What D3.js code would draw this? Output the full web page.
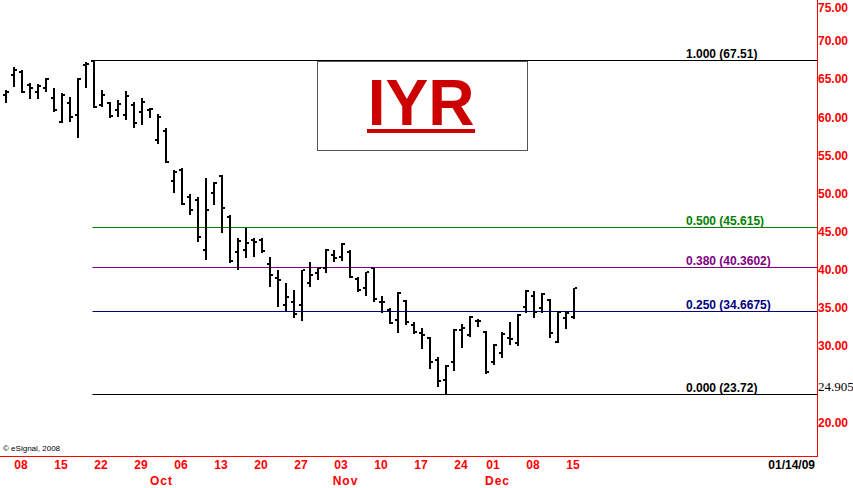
<!DOCTYPE html>
<html>
<head>
<meta charset="utf-8">
<script src="https://cdn.jsdelivr.net/npm/d3@7"></script>
<style>
  body { margin: 0; background: #fff; }
  svg { display: block; }
</style>
</head>
<body>
<div id="chart"></div>
<script>
// trading days shown on the chart
var dates = [
  "2008-09-04","2008-09-05","2008-09-08","2008-09-09","2008-09-10","2008-09-11","2008-09-12",
  "2008-09-15","2008-09-16","2008-09-17","2008-09-18","2008-09-19","2008-09-22","2008-09-23",
  "2008-09-24","2008-09-25","2008-09-26","2008-09-29","2008-09-30","2008-10-01","2008-10-02",
  "2008-10-03","2008-10-06","2008-10-07","2008-10-08","2008-10-09","2008-10-10","2008-10-13",
  "2008-10-14","2008-10-15","2008-10-16","2008-10-17","2008-10-20","2008-10-21","2008-10-22",
  "2008-10-23","2008-10-24","2008-10-27","2008-10-28","2008-10-29","2008-10-30","2008-10-31",
  "2008-11-03","2008-11-04","2008-11-05","2008-11-06","2008-11-07","2008-11-10","2008-11-11",
  "2008-11-12","2008-11-13","2008-11-14","2008-11-17","2008-11-18","2008-11-19","2008-11-20",
  "2008-11-21","2008-11-24","2008-11-25","2008-11-26","2008-11-28","2008-12-01","2008-12-02",
  "2008-12-03","2008-12-04","2008-12-05","2008-12-08","2008-12-09","2008-12-10","2008-12-11",
  "2008-12-12","2008-12-15"
];

var opens = [
  62.9, 65.5, 65.9, 64.2, 63.3, 63.8, 62.5, 59.4, 61.9, 60.3, 66.8, 67.4, 61.6, 61.9,
  61.0, 60.3, 61.6, 60.7, 61.0, 57.0, 58.2, 51.7, 53.1, 49.6, 49.2, 42.6, 50.1, 52.3,
  46.9, 42.3, 42.6, 43.9, 43.9, 40.8, 38.9, 35.4, 35.8, 35.4, 38.3, 39.6, 40.2, 41.9,
  41.7, 42.3, 38.8, 37.6, 40.2, 35.8, 34.7, 33.4, 35.9, 32.8, 31.7, 31.1, 28.2, 25.6,
  27.9, 32.1, 31.4, 33.3, 31.9, 27.9, 29.1, 31.1, 30.4, 35.1, 36.6, 35.0, 36.1, 30.5,
  33.7, 33.8
];
var highs = [
  63.6, 66.6, 66.2, 64.5, 64.4, 65.2, 63.8, 63.2, 62.7, 65.2, 67.3, 67.51, 63.6, 62.0,
  62.3, 63.4, 62.0, 62.5, 61.2, 60.4, 58.6, 53.1, 53.4, 49.9, 49.5, 52.0, 51.5, 52.4,
  47.2, 44.2, 45.5, 44.2, 44.2, 41.7, 40.0, 38.3, 37.4, 40.0, 41.0, 40.2, 42.7, 42.6,
  43.5, 42.6, 39.1, 39.7, 40.2, 36.6, 35.0, 37.1, 36.0, 33.2, 32.4, 31.2, 28.6, 27.5,
  32.3, 32.9, 33.9, 33.6, 32.0, 30.3, 31.9, 33.2, 34.2, 37.3, 37.2, 37.0, 36.2, 34.6,
  34.6, 37.6
];
var lows = [
  61.9, 64.0, 63.2, 62.4, 62.4, 63.3, 60.7, 59.3, 59.4, 57.3, 63.8, 61.2, 61.4, 59.9,
  60.0, 59.6, 58.6, 59.0, 59.9, 56.5, 54.0, 50.1, 48.5, 47.2, 43.7, 41.3, 48.5, 44.8,
  40.9, 40.0, 41.6, 41.7, 42.2, 37.8, 35.1, 34.6, 33.7, 33.3, 37.8, 38.7, 39.6, 41.0,
  41.2, 38.9, 37.1, 36.6, 35.8, 34.3, 32.9, 31.7, 32.8, 31.6, 29.6, 27.0, 24.6, 23.72,
  26.8, 29.8, 31.2, 32.5, 26.3, 27.5, 28.5, 30.2, 30.0, 34.3, 33.7, 34.3, 31.1, 30.4,
  32.2, 33.6
];
var closes = [
  63.3, 66.2, 63.3, 63.8, 64.1, 65.0, 61.0, 62.9, 60.0, 65.0, 67.0, 61.4, 62.9, 60.2,
  61.7, 62.8, 59.3, 62.0, 61.1, 60.0, 54.1, 52.8, 48.6, 47.9, 44.3, 47.8, 51.4, 48.1,
  41.1, 43.8, 43.5, 43.7, 42.5, 39.3, 38.7, 36.4, 34.2, 40.0, 39.3, 40.2, 42.6, 41.6,
  43.4, 39.1, 37.4, 39.7, 36.2, 35.8, 33.0, 37.0, 33.2, 31.9, 31.5, 27.9, 25.4, 27.4,
  32.1, 32.4, 33.8, 33.3, 26.6, 30.2, 31.6, 31.0, 34.1, 37.2, 34.5, 36.8, 31.7, 34.5,
  34.3, 37.6
];

// fibonacci retracement levels
var fibRatios = ["1.000", "0.500", "0.380", "0.250", "0.000"];
var fibPrices = [67.51, 45.615, 40.3602, 34.6675, 23.72];
var fibStartDate = "2008-09-19";

// axis labels
var priceTicks = [20, 30, 35, 40, 45, 50, 55, 60, 65, 70, 75];
var weekTicks = ["2008-09-08","2008-09-15","2008-09-22","2008-09-29","2008-10-06","2008-10-13",
  "2008-10-20","2008-10-27","2008-11-03","2008-11-10","2008-11-17","2008-11-24","2008-12-01",
  "2008-12-08","2008-12-15"];
var weekLabels = ["08","15","22","29","06","13","20","27","03","10","17","24","01","08","15"];
var monthStarts = ["2008-10-01", "2008-11-03", "2008-12-01"];
var monthLabels = ["Oct", "Nov", "Dec"];
var lastPriceLabel = "24.905";
var dateLabel = "01/14/09";

var fibColors = ["#000000", "#008000", "#800080", "#000080", "#000000"];

var svgWidth = 853;
var svgHeight = 488;
var axisX = 817;
var axisY = 456;

var svg = d3.select("#chart")
  .append("svg")
  .attr("width", svgWidth)
  .attr("height", svgHeight)
  .style("font-family", "'Liberation Sans', Arial, sans-serif");

var x = d3.scalePoint()
  .domain(dates)
  .range([5.5, 573.5]);

var y = d3.scaleLinear()
  .domain([20, 75])
  .range([422.4, 2.9]);

// fib lines + labels
fibPrices.forEach(function(p, i) {
  var yy = Math.round(y(p)) + 0.5;
  svg.append("line")
    .attr("x1", x(fibStartDate) - 1)
    .attr("x2", axisX)
    .attr("y1", yy)
    .attr("y2", yy)
    .attr("stroke", fibColors[i])
    .attr("stroke-width", 1);
  svg.append("text")
    .attr("x", 686)
    .attr("y", yy - 3)
    .attr("fill", fibColors[i])
    .style("font-size", "12px")
    .style("font-weight", "bold")
    .text(fibRatios[i] + " (" + p + ")");
});

// title box
svg.append("rect")
  .attr("x", 317.5)
  .attr("y", 61.5)
  .attr("width", 210)
  .attr("height", 89)
  .attr("fill", "#fff")
  .attr("stroke", "#555");

svg.append("text")
  .attr("x", 421)
  .attr("y", 125)
  .attr("text-anchor", "middle")
  .attr("fill", "#cc0000")
  .style("font-size", "64px")
  .style("font-weight", "bold")
  .text("IYR");

svg.append("rect")
  .attr("x", 367)
  .attr("y", 129)
  .attr("width", 108)
  .attr("height", 4)
  .attr("fill", "#cc0000");

// OHLC bars
var bars = svg.append("g")
  .attr("shape-rendering", "crispEdges");

var ohlc = dates.map(function(d, i) {
  return { date: d, o: opens[i], h: highs[i], l: lows[i], c: closes[i] };
});

bars.selectAll(".hl")
  .data(ohlc)
  .enter()
  .append("rect")
  .attr("x", d => Math.round(x(d.date)) - 1)
  .attr("y", d => Math.round(y(d.h)))
  .attr("width", 2)
  .attr("height", d => Math.max(2, Math.round(y(d.l)) - Math.round(y(d.h))))
  .attr("fill", "#000");

bars.selectAll(".open")
  .data(ohlc)
  .enter()
  .append("rect")
  .attr("x", d => Math.round(x(d.date)) - 3)
  .attr("y", d => Math.round(y(d.o)) - 1)
  .attr("width", 2)
  .attr("height", 2)
  .attr("fill", "#000");

bars.selectAll(".close")
  .data(ohlc)
  .enter()
  .append("rect")
  .attr("x", d => Math.round(x(d.date)) + 1)
  .attr("y", d => Math.round(y(d.c)) - 1)
  .attr("width", 2)
  .attr("height", 2)
  .attr("fill", "#000");

// axis lines
svg.append("line")
  .attr("x1", axisX + 0.5).attr("x2", axisX + 0.5)
  .attr("y1", 0).attr("y2", axisY + 1)
  .attr("stroke", "#ff0000");
svg.append("line")
  .attr("x1", 0).attr("x2", axisX + 1)
  .attr("y1", axisY + 0.5).attr("y2", axisY + 0.5)
  .attr("stroke", "#ff0000");

// price labels on the right
svg.selectAll(".ptick")
  .data(priceTicks)
  .enter()
  .append("text")
  .attr("x", axisX + 1)
  .attr("y", d => Math.max(y(d), 8))
  .attr("dy", "0.35em")
  .attr("fill", "#ff0000")
  .style("font-size", "12px")
  .style("font-weight", "bold")
  .text(d => d3.format(".2f")(d));

svg.append("text")
  .attr("x", axisX + 1)
  .attr("y", 386)
  .attr("dy", "0.35em")
  .attr("fill", "#000")
  .style("font-family", "'Liberation Serif', 'Times New Roman', serif")
  .style("font-size", "13px")
  .text(lastPriceLabel);

// date axis
var bottomAxis = d3.axisBottom(x)
  .tickValues(weekTicks)
  .tickFormat((d, i) => weekLabels[i])
  .tickSize(0)
  .tickPadding(4);

var xAxisG = svg.append("g")
  .attr("transform", `translate(-1, ${axisY})`)
  .call(bottomAxis);
xAxisG.select(".domain").remove();
xAxisG.selectAll("text")
  .attr("fill", "#ff0000")
  .style("font-family", "'Liberation Sans', Arial, sans-serif")
  .style("font-size", "12px")
  .style("font-weight", "bold");

svg.selectAll(".month")
  .data(monthStarts)
  .enter()
  .append("text")
  .attr("x", (d) => x(d) + 4)
  .attr("y", 485)
  .attr("text-anchor", "middle")
  .attr("fill", "#ff0000")
  .style("font-size", "12px")
  .style("font-weight", "bold")
  .style("letter-spacing", "1px")
  .text((d, i) => monthLabels[i]);

svg.append("text")
  .attr("x", 815)
  .attr("y", 469)
  .attr("text-anchor", "end")
  .attr("fill", "#000")
  .style("font-size", "12px")
  .style("font-weight", "bold")
  .text(dateLabel);

svg.append("text")
  .attr("x", 3)
  .attr("y", 451)
  .attr("fill", "#000")
  .style("font-size", "8px")
  .text("\u00a9 eSignal, 2008");
</script>
</body>
</html>
